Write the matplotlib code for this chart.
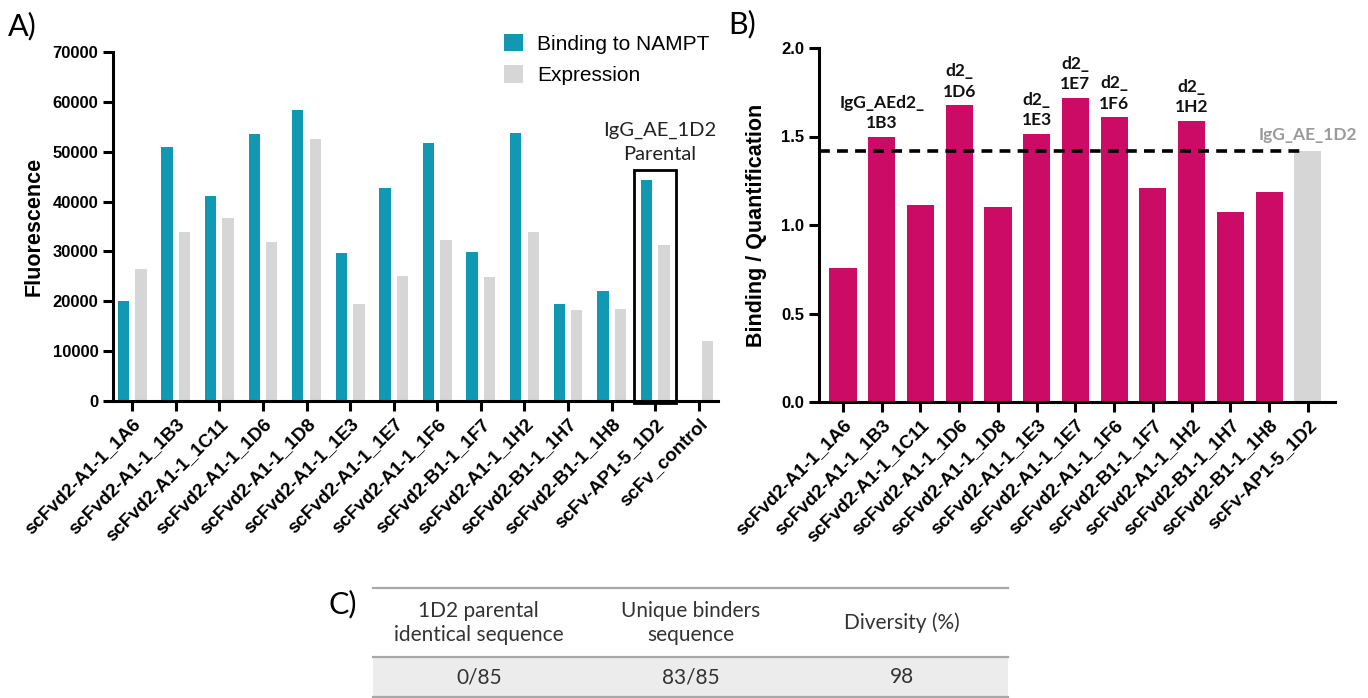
import numpy as np
import matplotlib.pyplot as plt
from matplotlib.patches import Rectangle

# panel A data
clones = ['scFvd2-A1-1_1A6', 'scFvd2-A1-1_1B3', 'scFvd2-A1-1_1C11', 'scFvd2-A1-1_1D6',
          'scFvd2-A1-1_1D8', 'scFvd2-A1-1_1E3', 'scFvd2-A1-1_1E7', 'scFvd2-A1-1_1F6',
          'scFvd2-B1-1_1F7', 'scFvd2-A1-1_1H2', 'scFvd2-B1-1_1H7', 'scFvd2-B1-1_1H8',
          'scFv-AP1-5_1D2', 'scFv_control']
binding = [20000, 50900, 41200, 53600, 58400, 29700, 42800, 51800, 29900, 53800, 19500, 22000, 44300, 300]
expression = [26400, 33900, 36800, 31900, 52600, 19500, 25000, 32300, 24800, 33900, 18200, 18500, 31200, 12000]

# panel B data (no control)
ratio = [0.755, 1.497, 1.115, 1.676, 1.104, 1.516, 1.718, 1.608, 1.207, 1.588, 1.075, 1.186, 1.418]
ratio_notes = ['', 'IgG_AEd2_\n1B3', '', 'd2_\n1D6', '', 'd2_\n1E3', 'd2_\n1E7', 'd2_\n1F6',
               '', 'd2_\n1H2', '', '', '']

# panel C table
tab_head = ['1D2 parental\nidentical sequence', 'Unique binders\nsequence', 'Diversity (%)']
tab_vals = ['0/85', '83/85', '98']

teal = '#1199b4'
lgray = '#d6d6d6'
magenta = '#cc0b66'

W, H = 1368, 698
fig = plt.figure(figsize=(W / 100, H / 100), dpi=100)

axfont = ['Liberation Sans', 'DejaVu Sans']
calib = ['Lato', 'DejaVu Sans']

def style_axes(ax):
    for s in ['top', 'right']:
        ax.spines[s].set_visible(False)
    for s in ['left', 'bottom']:
        ax.spines[s].set_linewidth(2.2)
    ax.tick_params(axis='both', width=2.2, length=7, direction='out')
    for lab in ax.get_yticklabels():
        lab.set_fontfamily(axfont)
        lab.set_fontweight('bold')
        lab.set_fontsize(12)

# ---- A ----
axA = fig.add_axes([113 / W, 1 - 401 / H, 605 / W, 349 / H])
x = np.arange(len(clones))
axA.bar(x - 0.2, binding, 0.26, color=teal, label='Binding to NAMPT')
axA.bar(x + 0.2, expression, 0.26, color=lgray, label='Expression')
axA.set_xlim(-0.44, 13.44)
axA.set_ylim(0, 70000)
axA.set_yticks(np.arange(0, 70001, 10000))
axA.set_xticks(x)
axA.set_xticklabels(clones, rotation=45, ha='right', rotation_mode='anchor',
                    fontfamily=axfont, fontweight='bold', fontsize=13.5)
axA.set_ylabel('Fluorescence', fontfamily=axfont, fontweight='bold', fontsize=15.5, labelpad=6)
style_axes(axA)
axA.add_patch(Rectangle((12 - 0.49, -500), 0.97, 46800, fill=False, lw=2, ec='black', clip_on=False, zorder=3))
axA.text(12.1, 47800, 'IgG_AE_1D2\nParental', ha='center', va='bottom', fontfamily=calib,
         fontsize=14.5, linespacing=1.45, color='#222222')
leg = axA.legend(loc='upper left', bbox_to_anchor=(0.615, 1.105), frameon=False,
                 prop={'family': axfont, 'size': 15}, handlelength=0.9, handleheight=0.9,
                 handletextpad=0.7, labelspacing=0.55)

# ---- B ----
axB = fig.add_axes([819 / W, 1 - 402 / H, 516 / W, 354 / H])
xb = np.arange(len(ratio))
cols = [magenta] * (len(ratio) - 1) + [lgray]
axB.bar(xb, ratio, 0.7, color=cols)
axB.hlines(ratio[-1], -0.62, 11.9, colors='black', linestyles=(0, (3, 2)), lw=2.6, zorder=3)
axB.set_xlim(-0.62, 12.7)
axB.set_ylim(0, 2.0)
axB.set_yticks([0.0, 0.5, 1.0, 1.5, 2.0])
axB.set_yticklabels(['0.0', '0.5', '1.0', '1.5', '2.0'])
axB.set_xticks(xb)
axB.set_xticklabels(clones[:-1], rotation=45, ha='right', rotation_mode='anchor',
                    fontfamily=axfont, fontweight='bold', fontsize=13.5)
axB.set_ylabel('Binding / Quantification', fontfamily=axfont, fontweight='bold', fontsize=15.5, labelpad=10)
style_axes(axB)
for i, note in enumerate(ratio_notes):
    if note:
        axB.annotate(note, (xb[i], ratio[i]), xytext=(0, 4), textcoords='offset points',
                     ha='center', va='bottom', fontfamily=calib, fontweight='bold',
                     fontsize=12.5, linespacing=1.35, color='#111111')
axB.annotate('IgG_AE_1D2', (xb[-1], ratio[-1]), xytext=(0, 6), textcoords='offset points',
             ha='center', va='bottom', fontfamily=calib, fontweight='bold', fontsize=12.5,
             color='#9a9a9a', annotation_clip=False)

# ---- overlay: panel letters and table ----
ov = fig.add_axes([0, 0, 1, 1], zorder=-1)
ov.set_xlim(0, W)
ov.set_ylim(H, 0)
ov.axis('off')
ov.text(8, 26, 'A)', fontfamily=calib, fontsize=22, va='center', ha='left')
ov.text(728, 24, 'B)', fontfamily=calib, fontsize=22, va='center', ha='left')
ov.text(328, 604, 'C)', fontfamily=calib, fontsize=22, va='center', ha='left')

tl, tr = 373, 1008
ov.add_patch(Rectangle((tl, 657), tr - tl, 40, color='#ececec', lw=0))
for yy in [588, 657, 697]:
    ov.plot([tl, tr], [yy, yy], color='#a8a8a8', lw=1.6)
colw = (tr - tl) / len(tab_head)
for j in range(len(tab_head)):
    cx = tl + colw * (j + 0.5)
    ov.text(cx, 623, tab_head[j], ha='center', va='center', fontfamily=calib,
            fontsize=15, color='#333333', linespacing=1.2)
    ov.text(cx, 677, tab_vals[j], ha='center', va='center', fontfamily=calib,
            fontsize=15, color='#333333')

fig.savefig('out.png', dpi=100)
